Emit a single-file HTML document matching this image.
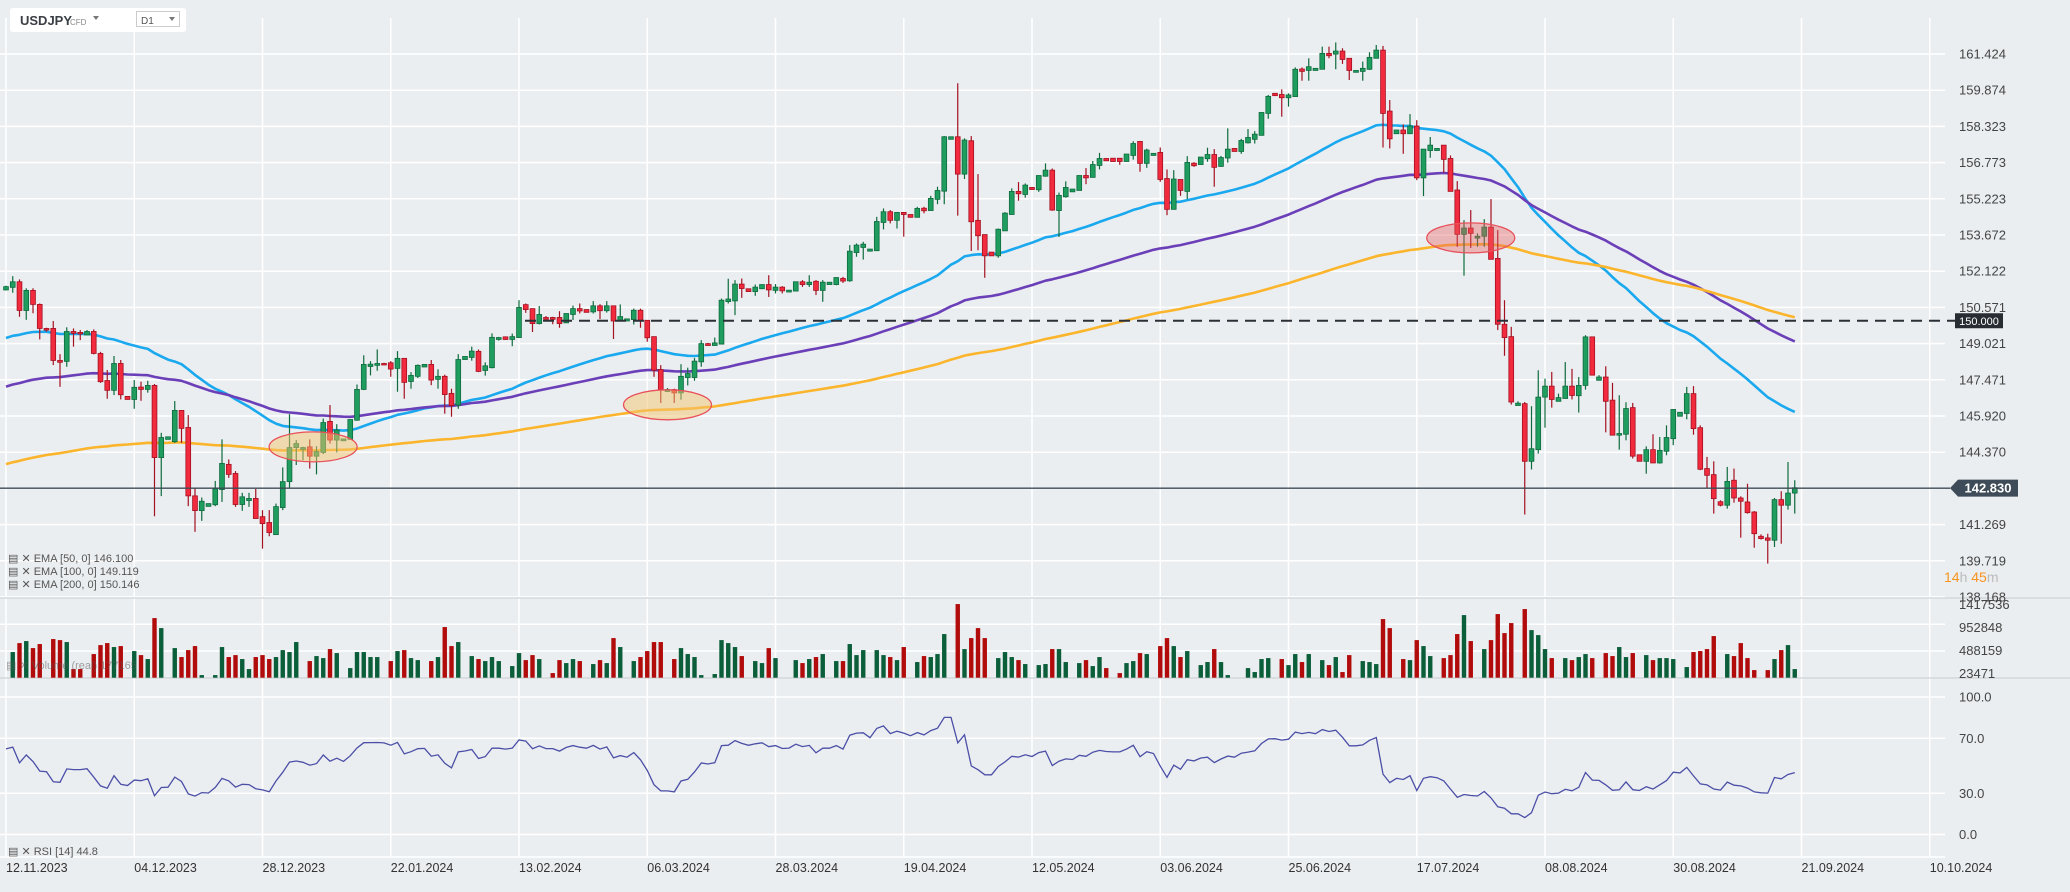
<!DOCTYPE html>
<html><head><meta charset="utf-8">
<style>
html,body{margin:0;padding:0;background:#ebeef1;}
svg{display:block;font-family:"Liberation Sans",sans-serif;}
</style></head>
<body>
<svg id="chart" width="2070" height="892" viewBox="0 0 2070 892" xmlns="http://www.w3.org/2000/svg">
<rect x="0" y="0" width="2070" height="892" fill="#ebeef1"/>
<g id="grid"></g>
<g id="vol"></g>
<g id="rsi"></g>
<g id="ema"></g>
<g id="candles"></g>
<g id="ann"></g>
<g id="axes"></g>
<g>
  <rect x="10" y="8" width="176" height="24" rx="3" fill="#ffffff"/>
  <text x="20" y="25" font-size="13" font-weight="bold" fill="#3a3f45">USDJPY</text>
  <text x="70" y="25" font-size="8" fill="#888">CFD</text>
  <path d="M93 16 L99 16 L96 20 Z" fill="#777"/>
  <rect x="136.5" y="11.5" width="43" height="15" fill="#fff" stroke="#ccc"/>
  <text x="141" y="24" font-size="10" fill="#555">D1</text>
  <path d="M169 17 L175 17 L172 21 Z" fill="#777"/>
</g>
</svg>
<script>
const opens=[151.32,151.43,151.67,150.44,151.30,150.70,149.67,149.67,148.30,148.26,149.54,149.50,149.39,149.54,148.60,147.44,147.02,148.17,146.76,146.63,147.16,147.06,147.23,144.14,144.92,144.82,146.16,145.43,142.50,141.87,142.05,142.12,142.77,143.85,143.46,142.13,142.30,142.39,141.61,141.36,140.84,142.00,143.11,144.57,144.49,144.60,144.20,144.36,145.69,144.89,144.86,144.92,145.74,147.06,148.04,148.09,148.17,148.20,147.96,148.39,147.40,147.62,148.02,148.13,147.49,147.62,146.89,146.39,148.34,148.43,148.69,147.87,147.99,149.20,149.31,149.20,149.28,150.69,150.52,149.88,150.14,150.14,150.14,149.91,150.27,150.52,150.48,150.38,150.64,150.43,150.64,149.99,149.99,150.05,150.45,150.02,149.32,147.91,146.97,147.05,146.91,147.57,147.57,148.24,149.02,148.94,149.00,150.82,150.85,151.57,151.37,151.25,151.37,151.55,151.30,151.44,151.23,151.27,151.67,151.55,151.69,151.30,151.55,151.55,151.81,151.71,152.92,153.14,152.98,153.00,154.21,154.67,154.30,154.64,154.55,154.43,154.82,154.72,155.20,155.55,157.77,157.88,156.28,157.71,154.30,153.69,152.94,152.78,153.85,154.55,155.54,155.41,155.71,155.61,156.19,156.45,154.72,155.31,155.52,155.58,156.22,156.14,156.65,156.95,156.96,156.96,156.82,157.08,157.68,156.74,157.08,157.21,156.09,154.77,156.05,155.54,156.75,156.69,156.94,157.12,156.61,156.97,157.38,157.25,157.62,157.77,157.94,158.88,159.74,159.69,159.55,159.60,160.78,160.72,160.72,160.77,161.45,161.42,161.55,161.24,160.64,160.68,160.77,161.24,161.59,158.98,158.01,158.17,158.01,158.34,156.12,157.29,157.29,157.52,156.95,155.60,153.70,153.97,153.54,153.62,154.01,152.67,149.85,149.32,146.37,146.45,143.98,144.48,146.73,147.20,146.55,146.67,147.20,146.79,147.23,149.31,147.45,147.59,146.60,145.10,145.14,146.28,144.26,143.98,144.48,143.91,144.41,144.95,145.91,146.03,146.88,145.42,143.67,143.41,142.25,142.10,143.17,142.41,142.24,141.81,140.77,140.70,140.60,142.34,142.10,142.62];
const highs=[151.50,151.91,151.77,151.39,151.39,150.74,149.70,149.99,148.57,149.72,149.67,149.60,149.60,149.63,148.67,147.89,148.49,148.32,146.76,147.46,147.39,147.43,147.29,145.20,145.03,146.56,146.16,145.96,142.86,142.43,142.17,143.14,144.92,144.06,143.56,142.63,142.63,142.80,141.89,141.89,142.17,143.72,146.00,144.89,144.60,144.92,144.63,145.81,146.39,145.57,144.94,145.77,147.27,148.52,148.27,148.77,148.20,148.27,148.70,148.39,147.80,148.13,148.13,148.32,147.92,147.69,147.09,148.57,148.47,148.89,148.77,148.22,149.46,149.31,149.33,149.45,150.88,150.74,150.52,150.63,150.20,150.17,150.41,150.31,150.65,150.74,150.48,150.84,150.71,150.84,150.64,150.70,150.09,150.52,150.52,150.02,149.32,148.10,147.12,147.09,148.14,147.99,148.41,149.17,149.05,149.28,150.95,151.80,151.74,151.81,151.37,151.55,151.55,151.95,151.57,151.48,151.31,151.67,151.74,151.95,151.74,151.74,151.65,151.86,151.88,153.24,153.31,153.38,153.07,154.45,154.81,154.74,154.64,154.64,154.55,154.88,154.88,155.35,155.74,157.91,157.88,160.17,157.81,157.91,156.28,153.69,152.94,153.95,154.65,155.67,155.94,155.88,155.71,156.22,156.74,156.52,155.49,155.97,155.64,156.22,156.54,156.84,157.19,156.95,156.96,156.96,157.14,157.69,157.68,157.37,157.17,157.42,156.48,156.45,156.05,157.05,156.79,157.01,157.41,157.35,157.06,158.24,157.38,157.79,158.21,158.12,158.92,159.67,159.74,159.91,159.74,160.85,160.85,161.24,160.81,161.74,161.74,161.92,161.67,161.24,160.72,161.10,161.50,161.81,161.77,159.45,158.17,158.41,158.85,158.59,157.35,157.87,157.38,157.52,157.08,155.98,154.31,154.74,153.74,154.35,155.21,153.88,150.88,149.74,146.55,146.52,146.34,147.88,147.52,147.81,146.88,148.23,147.94,147.59,149.38,149.31,147.67,148.05,147.34,146.81,146.51,146.48,144.26,144.62,145.14,145.02,145.52,146.20,146.08,147.17,147.20,145.52,144.17,143.98,142.31,143.74,143.67,142.48,143.02,141.85,140.85,140.88,142.41,142.70,143.95,143.17];
const lows=[151.30,151.20,150.17,150.04,150.32,149.20,149.53,148.10,147.17,148.03,148.89,149.17,149.39,148.56,147.34,146.66,146.82,146.63,146.63,146.23,146.57,146.92,141.63,142.49,144.92,144.77,144.77,142.06,140.96,141.43,142.05,142.06,142.24,143.27,142.03,141.86,142.03,141.52,140.24,140.77,140.84,141.89,142.86,143.82,144.03,143.67,143.42,144.29,144.74,144.36,144.86,144.92,145.72,147.03,147.66,147.86,148.13,147.60,146.96,146.66,147.09,147.55,148.02,147.24,147.09,146.02,145.89,146.23,148.34,148.29,147.80,147.65,147.96,149.15,149.18,148.91,149.28,150.34,149.52,149.84,150.06,149.85,149.70,149.91,150.03,150.31,150.36,150.31,150.07,150.35,149.22,149.98,149.99,149.84,149.70,149.10,147.60,146.48,146.97,146.48,146.62,147.23,147.43,148.03,148.94,148.94,149.00,150.74,150.24,150.98,151.25,151.07,151.37,151.02,151.17,151.17,151.23,151.27,151.45,151.45,151.10,150.81,151.55,151.52,151.62,151.67,152.74,152.62,152.98,153.00,153.91,154.17,153.95,153.60,154.43,154.43,154.60,154.72,154.99,154.99,157.77,154.50,156.07,152.99,153.02,151.84,152.78,152.70,153.85,154.55,155.14,155.27,155.62,155.52,156.17,154.71,153.59,155.27,155.52,155.58,155.85,156.14,156.48,156.85,156.82,156.68,156.82,156.90,156.38,156.55,157.08,155.95,154.52,154.77,155.35,155.21,156.59,156.69,156.81,155.74,156.59,156.77,157.25,157.15,157.59,157.59,157.94,158.65,159.64,158.74,159.17,159.60,160.28,160.28,160.72,160.77,161.24,160.77,161.00,160.31,160.64,160.28,160.74,161.24,157.42,157.38,158.01,157.15,158.01,156.02,155.34,156.98,157.29,156.34,155.54,153.17,151.93,153.12,153.17,153.17,152.63,149.60,148.50,146.41,146.37,141.70,143.63,144.31,145.42,146.28,146.55,146.67,146.63,146.07,147.05,147.67,147.45,145.22,145.10,144.48,144.88,144.10,143.98,143.45,143.91,143.88,144.24,144.67,145.91,145.78,145.12,143.60,142.84,141.74,142.05,141.95,142.21,140.71,141.74,140.28,140.63,139.60,140.31,140.45,141.91,141.74];
const closes=[151.46,151.67,150.44,151.30,150.70,149.67,149.60,148.30,148.22,149.54,149.46,149.46,149.54,148.60,147.39,147.02,148.17,146.83,146.63,147.15,147.06,147.23,144.14,145.00,145.03,146.16,145.39,142.50,141.87,142.27,142.17,142.80,143.89,143.42,142.13,142.46,142.39,141.53,141.31,140.93,142.04,143.11,144.57,144.74,144.57,144.20,144.40,145.64,144.89,145.32,144.94,145.77,147.06,148.13,148.14,148.17,148.13,147.93,148.39,147.36,147.66,148.09,148.13,147.46,147.62,146.84,146.37,148.34,148.47,148.70,147.83,148.07,149.29,149.28,149.20,149.32,150.57,150.48,149.88,150.27,150.06,150.06,149.88,150.31,150.52,150.42,150.36,150.64,150.43,150.64,149.99,150.18,150.08,150.45,150.02,149.27,147.88,147.05,147.05,146.91,147.62,147.74,148.27,149.02,148.94,149.05,150.88,150.93,151.57,151.38,151.25,151.44,151.55,151.32,151.44,151.28,151.31,151.67,151.55,151.65,151.30,151.65,151.65,151.85,151.70,152.98,153.24,153.28,153.07,154.25,154.67,154.30,154.64,154.55,154.43,154.81,154.71,155.24,155.58,157.88,157.88,156.28,157.74,154.24,153.64,152.78,152.78,153.92,154.61,155.54,155.44,155.81,155.62,156.22,156.45,154.74,155.37,155.71,155.64,156.22,156.12,156.69,156.95,156.85,156.82,156.82,157.14,157.59,156.74,157.31,157.17,156.05,154.77,156.07,155.58,156.78,156.64,157.01,157.12,156.57,156.99,157.35,157.25,157.72,157.85,157.99,158.92,159.61,159.64,159.55,159.67,160.77,160.68,160.88,160.81,161.45,161.35,161.55,161.19,160.72,160.72,160.81,161.28,161.59,158.88,157.79,158.17,158.01,158.34,156.12,157.35,157.52,157.38,156.91,155.54,153.70,153.97,153.74,153.62,154.01,152.63,149.85,149.28,146.52,146.47,143.98,144.52,146.73,147.20,146.63,146.71,147.20,146.80,147.23,149.31,147.67,147.59,146.55,145.10,145.17,146.24,144.20,143.98,144.48,143.91,144.45,145.00,146.20,146.08,146.88,145.38,143.64,143.38,142.38,142.10,143.12,142.41,142.27,141.78,140.88,140.67,140.60,142.34,142.10,142.62,142.85];
const volumesK=[0,470,626,661,539,609,0,696,678,644,174,174,0,435,591,626,557,574,0,487,417,348,1061,887,0,539,383,504,574,69,0,69,557,383,417,348,174,383,417,348,383,504,470,644,0,313,400,365,522,452,0,191,470,470,383,383,0,313,487,504,365,330,0,313,383,905,574,644,0,400,348,313,383,313,0,226,452,330,417,348,0,104,330,278,348,313,0,261,330,278,713,557,0,313,383,487,644,644,0,348,539,435,383,69,0,87,678,626,557,400,0,313,278,539,365,0,0,330,278,348,383,435,0,313,313,609,417,504,0,504,417,383,330,557,0,296,400,383,435,783,0,1305,522,713,887,713,0,365,470,383,330,261,0,243,261,522,522,296,0,278,330,226,383,191,0,104,278,313,452,435,0,574,713,574,383,487,0,243,296,522,296,69,0,0,191,122,348,365,0,348,243,435,296,435,0,330,243,383,122,417,0,313,296,261,1044,887,0,348,330,678,574,400,0,365,417,783,1113,661,0,522,678,1131,800,974,0,1218,852,765,522,365,0,365,330,383,435,365,0,452,400,557,383,452,0,417,330,365,365,348,0,209,470,487,522,748,0,435,400,626,365,156,0,156,348,504,591,174];
const dateLabels=["12.11.2023","04.12.2023","28.12.2023","22.01.2024","13.02.2024","06.03.2024","28.03.2024","19.04.2024","12.05.2024","03.06.2024","25.06.2024","17.07.2024","08.08.2024","30.08.2024","21.09.2024","10.10.2024"];
const priceTicks=[161.424,159.874,158.323,156.773,155.223,153.672,152.122,150.571,149.021,147.471,145.920,144.370,142.820,141.269,139.719,138.168];
const volTicks=[1417536,952848,488159,23471];
const rsiTicks=[100,70,30,0];
const emaPeriods=[50,100,200];
const emaSeeds=[149.26,147.18,143.86];
const emaColors=["#1aa8ee","#6b3fb8","#fbb52c"];
const lastPrice=142.830;
const levelPrice=150.000;
const zones=[{i:45.5,p:144.6},{i:98,p:146.4},{i:217,p:153.55}];
const rsiSeed=[0.28,0.17];

const NS="http://www.w3.org/2000/svg";
function mk(tag,attrs,parent){const e=document.createElementNS(NS,tag);for(const k in attrs)e.setAttribute(k,attrs[k]);parent.appendChild(e);return e;}
const X=i=>6+6.75*i;
const Y=p=>54+(161.424-p)*23.35;
const YV=v=>677.7-(v-23471)/17404;
const YR=r=>697+(100-r)*1.375;
const PR=1945;
const G=document.getElementById('grid'),C=document.getElementById('candles'),V=document.getElementById('vol'),R=document.getElementById('rsi'),E=document.getElementById('ema'),A=document.getElementById('ann'),AX=document.getElementById('axes');

// grid
priceTicks.forEach((t,k)=>{const l=mk('line',{x1:0,x2:PR,y1:Y(t),y2:Y(t),stroke:'#fff','stroke-width':1.5},G);

if(Math.abs(t-lastPrice)>0.5){const tx=mk('text',{x:1959,y:Y(t)+4.5,'font-size':13,fill:'#444'},AX);tx.textContent=t.toFixed(3);
}});
volTicks.forEach((t,k)=>{if(k>0&&k<3){const l=mk('line',{x1:0,x2:PR,y1:YV(t),y2:YV(t),stroke:'#fff','stroke-width':1.5},G);
}
const tx=mk('text',{x:1959,y:[609,632,655,678][k],'font-size':13,fill:'#444'},AX);tx.textContent=t;
});
rsiTicks.forEach(t=>{const l=mk('line',{x1:0,x2:PR,y1:YR(t),y2:YR(t),stroke:'#fff','stroke-width':1.5},G);

const tx=mk('text',{x:1959,y:YR(t)+4.5,'font-size':13,fill:'#444'},AX);tx.textContent=t.toFixed(1);
});
dateLabels.forEach((d,k)=>{const x=X(19*k);const l=mk('line',{x1:x,x2:x,y1:18,y2:856,stroke:'#fff','stroke-width':1.5},G);

const tx=mk('text',{x:x,y:872,'font-size':12.5,fill:'#333'},AX);tx.textContent=d;
});
[598,678].forEach(y=>{const l=mk('line',{x1:0,x2:2070,y1:y,y2:y,stroke:'#cfd3d7','stroke-width':1.2},G);
});
const bl=mk('line',{x1:0,x2:PR,y1:857,y2:857,stroke:'#fff','stroke-width':1.5},G);


// volume
volumesK.forEach((v,i)=>{if(!v)return;const up=closes[i]>=opens[i];const y=YV(v*1000);
const r=mk('rect',{x:X(i)-2.2,y:y,width:4.4,height:677.7-y,fill:up?'#0a5e3a':'#b10b0b'},V);
});

// EMA
emaPeriods.forEach((n,k)=>{const a=2/(n+1);let e=emaSeeds[k];let d='';
closes.forEach((c,i)=>{if(i>0)e=e+a*(c-e);d+=(i?'L':'M')+X(i).toFixed(1)+' '+Y(e).toFixed(1);});
const p=mk('path',{d:d,fill:'none',stroke:emaColors[k],'stroke-width':2.6,'stroke-linejoin':'round'},E);
});

// RSI
(function(){let ag=rsiSeed[0],al=rsiSeed[1];let d='';
closes.forEach((c,i)=>{if(i>0){const ch=c-closes[i-1];ag=(ag*13+Math.max(ch,0))/14;al=(al*13+Math.max(-ch,0))/14;}
const r=100-100/(1+ag/al);d+=(i?'L':'M')+X(i).toFixed(1)+' '+YR(r).toFixed(1);});
const p=mk('path',{d:d,fill:'none',stroke:'#4b4fa6','stroke-width':1.3},R);
})();

// candles
closes.forEach((c,i)=>{const o=opens[i],up=c>=o,x=X(i);
const col=up?'#1f9d5f':'#f22a3d',st=up?'#0d6b3d':'#a31020';
const w=mk('line',{x1:x,x2:x,y1:Y(highs[i]),y2:Y(lows[i]),stroke:st,'stroke-width':1.2},C);

const t=Math.min(Y(o),Y(c)),h=Math.max(Math.abs(Y(o)-Y(c)),1.5);
const b=mk('rect',{x:x-2.4,y:t,width:4.8,height:h,fill:col,stroke:st,'stroke-width':0.8},C);
});

// annotations
zones.forEach((z,k)=>{const red=k===2;const el=mk('ellipse',{cx:X(z.i),cy:Y(z.p),rx:44,ry:15,fill:red?'rgba(232,95,95,0.4)':'rgba(244,196,110,0.5)',stroke:'#e8505a','stroke-width':1.3},A);
});
const dl=mk('line',{x1:525,x2:1955,y1:Y(levelPrice),y2:Y(levelPrice),stroke:'#2b3036','stroke-width':2,'stroke-dasharray':'11 7'},A);

const lb=mk('rect',{x:1955,y:Y(levelPrice)-7.5,width:48,height:15,fill:'#272d33'},A);

const lt=mk('text',{x:1979,y:Y(levelPrice)+4,'font-size':11,fill:'#fff','text-anchor':'middle'},A);lt.textContent=levelPrice.toFixed(3);

const yl=Y(lastPrice);
const pl=mk('line',{x1:0,x2:1950,y1:yl,y2:yl,stroke:'#3c4a55','stroke-width':1.3},A);

const pb=mk('path',{d:`M1950 ${yl} L1958 ${yl-8.5} L2018 ${yl-8.5} L2018 ${yl+8.5} L1958 ${yl+8.5} Z`,fill:'#3d4c58'},A);

const pt=mk('text',{x:1988,y:yl+4.5,'font-size':13,'font-weight':'bold',fill:'#fff','text-anchor':'middle'},A);pt.textContent=lastPrice.toFixed(3);

</script>
<svg width="0" height="0" style="position:absolute"></svg>
<div style="position:absolute;left:0;top:0;width:2070px;height:892px;pointer-events:none;font-family:'Liberation Sans',sans-serif;">
  <div style="position:absolute;left:8px;top:552px;font-size:11px;color:#555;">▤ ✕ EMA [50, 0] 146.100</div>
  <div style="position:absolute;left:8px;top:565px;font-size:11px;color:#555;">▤ ✕ EMA [100, 0] 149.119</div>
  <div style="position:absolute;left:8px;top:578px;font-size:11px;color:#555;">▤ ✕ EMA [200, 0] 150.146</div>
  <div style="position:absolute;left:6px;top:659px;font-size:11px;color:rgba(90,90,90,0.55);">▤ ✕ Volume (real) 177165</div>
  <div style="position:absolute;left:8px;top:845px;font-size:11px;color:#555;">▤ ✕ RSI [14] 44.8</div>
  <div style="position:absolute;left:1944px;top:569px;font-size:14px;color:#f7931e;">14<span style="color:#bbb">h</span> 45<span style="color:#bbb">m</span></div>
</div>
</body></html>
